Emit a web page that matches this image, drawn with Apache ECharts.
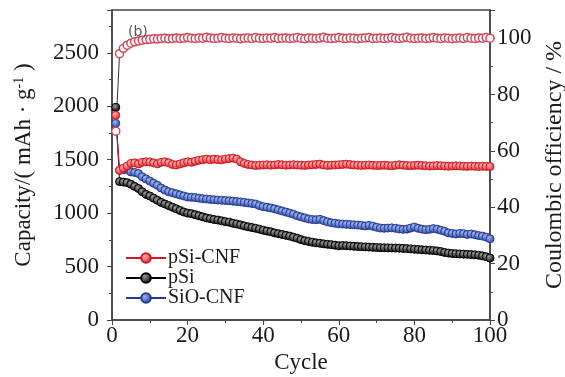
<!DOCTYPE html>
<html>
<head>
<meta charset="utf-8">
<script src="https://cdn.jsdelivr.net/npm/echarts@6/dist/echarts.min.js"></script>
<style>
  html, body {margin: 0; padding: 0; background: #fff;}
  #chart {width: 565px; height: 377px;}
</style>
</head>
<body>
<div id="chart"></div>
<script>
const cycles = Array.from({length: 100}, (_, i) => i + 1);
const seriesNames = ['pSi-CNF', 'pSi', 'SiO-CNF'];

// capacity, mAh/g
const pSiCnf = [1915, 1400, 1420, 1440, 1465, 1470, 1460, 1475, 1480, 1478,
  1470, 1460, 1475, 1480, 1470, 1455, 1450, 1460, 1470, 1480,
  1475, 1485, 1495, 1500, 1505, 1500, 1505, 1500, 1498, 1505,
  1510, 1515, 1505, 1480, 1465, 1455, 1450, 1445, 1448, 1450,
  1452, 1448, 1450, 1455, 1452, 1448, 1450, 1453, 1450, 1448,
  1446, 1450, 1452, 1455, 1458, 1450, 1446, 1448, 1450, 1452,
  1455, 1458, 1454, 1450, 1448, 1446, 1448, 1450, 1447, 1445,
  1446, 1448, 1445, 1443, 1447, 1452, 1448, 1445, 1444, 1446,
  1448, 1445, 1443, 1440, 1442, 1445, 1443, 1440, 1438, 1440,
  1442, 1440, 1438, 1437, 1440, 1438, 1436, 1438, 1437, 1435];
const pSi = [1990, 1295, 1290, 1285, 1270, 1250, 1230, 1200, 1175, 1160,
  1140, 1120, 1100, 1085, 1070, 1055, 1040, 1025, 1010, 1000,
  995, 985, 975, 965, 955, 948, 940, 935, 928, 920,
  915, 905, 898, 890, 880, 872, 865, 858, 850, 840,
  832, 825, 815, 808, 800, 792, 785, 775, 765, 752,
  742, 735, 728, 722, 718, 712, 708, 705, 700, 695,
  697, 695, 692, 690, 688, 686, 684, 682, 680, 678,
  677, 676, 675, 674, 673, 672, 670, 668, 665, 662,
  660, 657, 655, 652, 650, 646, 640, 632, 626, 622,
  620, 618, 616, 614, 612, 610, 606, 600, 592, 580];
const sioCnf = [1840, 1400, 1405, 1410, 1385, 1380, 1370, 1340, 1320, 1300,
  1280, 1260, 1235, 1215, 1200, 1190, 1180, 1170, 1160, 1150,
  1148, 1145, 1140, 1135, 1132, 1128, 1125, 1122, 1120, 1118,
  1115, 1112, 1108, 1105, 1100, 1095, 1090, 1085, 1070, 1060,
  1055, 1048, 1040, 1030, 1020, 1010, 1000, 990, 975, 965,
  955, 945, 940, 938, 942, 930, 918, 910, 905, 900,
  898, 895, 893, 890, 888, 885, 880, 885, 878, 868,
  860, 858, 860, 862, 858, 852, 848, 850, 860, 870,
  858, 850, 845, 848, 855, 850, 840, 830, 815, 810,
  805, 810, 808, 800, 805, 798, 790, 785, 775, 760];
// coulombic efficiency of pSi-CNF, %
const ceffPSiCnf = [67.0, 94.5, 96.4, 97.5, 98.2, 98.7, 99.0, 99.3, 99.5, 99.6,
  99.8, 99.7, 99.9, 100.0, 99.8, 99.9, 100.1, 99.9, 100.0, 100.2,
  100.0, 99.9, 100.1, 100.0, 100.3, 100.1, 99.9, 100.0, 100.2, 100.0,
  99.9, 100.1, 100.0, 99.8, 100.0, 100.1, 99.9, 100.2, 100.0, 99.9,
  100.1, 100.0, 100.2, 99.9, 100.0, 100.1, 99.9, 100.0, 100.2, 100.0,
  99.8, 100.1, 100.0, 99.9, 100.1, 100.3, 100.0, 99.9, 100.0, 100.2,
  100.0, 99.9, 100.1, 100.0, 99.8, 100.0, 100.1, 100.2, 99.9, 100.0,
  100.1, 99.9, 100.0, 100.2, 100.0, 99.9, 100.1, 100.3, 100.0, 99.9,
  100.0, 100.1, 99.9, 100.0, 100.2, 100.0, 99.9, 100.1, 100.0, 99.8,
  100.0, 100.1, 99.9, 100.2, 100.0, 99.9, 100.1, 100.0, 100.2, 100.0];

const serif = '"Liberation Serif", "Times New Roman", Times, serif';
const ink = '#1a1a1a';
const axisColor = '#444';

const ball = (hi, lo) => ({
  type: 'radial', x: 0.38, y: 0.35, r: 0.65,
  colorStops: [{offset: 0, color: hi}, {offset: 1, color: lo}]
});
const pairs = (vals) => cycles.map((c, i) => [c, vals[i]]);
const plain = (v) => String(v);

const capSeries = (name, vals, hi, lo, border) => ({
  name: name,
  type: 'line',
  data: pairs(vals),
  symbol: 'circle',
  symbolSize: 8,
  lineStyle: {color: border, width: 1},
  itemStyle: {color: ball(hi, lo), borderColor: border, borderWidth: 1}
});

const chart = echarts.init(document.getElementById('chart'));
chart.setOption({
  animation: false,
  title: {
    text: '(b)', left: 123, top: 20,
    textStyle: {fontFamily: 'DejaVu Sans', fontSize: 14, fontWeight: 'normal', color: '#555'}
  },
  grid: {left: 112, right: 75, top: 10, bottom: 57, outerBoundsMode: 'none',
    show: true, borderColor: axisColor, borderWidth: 1.5},
  legend: {
    data: seriesNames,
    orient: 'vertical',
    left: 120, top: 243,
    itemWidth: 40, itemHeight: 12, itemGap: 0,
    textStyle: {fontFamily: serif, fontSize: 20, color: ink, padding: [0, 0, 0, -3]}
  },
  xAxis: {
    type: 'value', min: 0, max: 100, interval: 20,
    name: 'Cycle', nameLocation: 'middle', nameGap: 29,
    nameTextStyle: {fontFamily: serif, fontSize: 23, color: ink},
    axisLine: {lineStyle: {color: axisColor, width: 1.5}},
    axisTick: {length: 5, lineStyle: {color: axisColor}},
    minorTick: {show: true, splitNumber: 2, length: 3, lineStyle: {color: axisColor}},
    axisLabel: {fontFamily: serif, fontSize: 23, color: ink, margin: 4, formatter: plain},
    splitLine: {show: false}
  },
  yAxis: [{
    type: 'value', min: 0, max: 2900, interval: 500, position: 'left',
    name: 'Capacity/( mAh · g{sup|-1} )', nameLocation: 'middle', nameGap: 76, nameRotate: 90,
    nameTextStyle: {fontFamily: serif, fontSize: 23, color: ink,
      rich: {sup: {fontFamily: serif, fontSize: 14, color: ink, verticalAlign: 'top', padding: [0, 0, 10, 0]}}},
    axisLine: {show: true, lineStyle: {color: axisColor, width: 1.5}},
    axisTick: {length: 5, lineStyle: {color: axisColor}},
    minorTick: {show: true, splitNumber: 2, length: 3, lineStyle: {color: axisColor}},
    axisLabel: {fontFamily: serif, fontSize: 23, color: ink, margin: 13, showMaxLabel: false, formatter: plain},
    splitLine: {show: false}
  }, {
    type: 'value', min: 0, max: 110, interval: 20, position: 'right',
    name: 'Coulombic officiency / %', nameLocation: 'middle', nameGap: 52, nameRotate: 90,
    nameTextStyle: {fontFamily: serif, fontSize: 24, color: ink},
    axisLine: {show: true, lineStyle: {color: axisColor, width: 1.5}},
    axisTick: {length: 5, lineStyle: {color: axisColor}},
    minorTick: {show: true, splitNumber: 2, length: 3, lineStyle: {color: axisColor}},
    axisLabel: {fontFamily: serif, fontSize: 23, color: ink, margin: 7, showMaxLabel: false, formatter: plain},
    splitLine: {show: false}
  }],
  series: [
    capSeries('pSi', pSi, '#9a9a9a', '#0a0a0a', '#000'),
    capSeries('SiO-CNF', sioCnf, '#9fb4ef', '#2b46a6', '#233c90'),
    capSeries('pSi-CNF', pSiCnf, '#ffb0b0', '#e2232c', '#c81c24'),
    {
      name: 'CE',
      type: 'line',
      yAxisIndex: 1,
      data: pairs(ceffPSiCnf),
      symbol: 'circle',
      symbolSize: 8,
      lineStyle: {color: '#333', width: 1},
      itemStyle: {color: '#fff', borderColor: '#d0485a', borderWidth: 1.5}
    }
  ]
});
</script>
</body>
</html>
